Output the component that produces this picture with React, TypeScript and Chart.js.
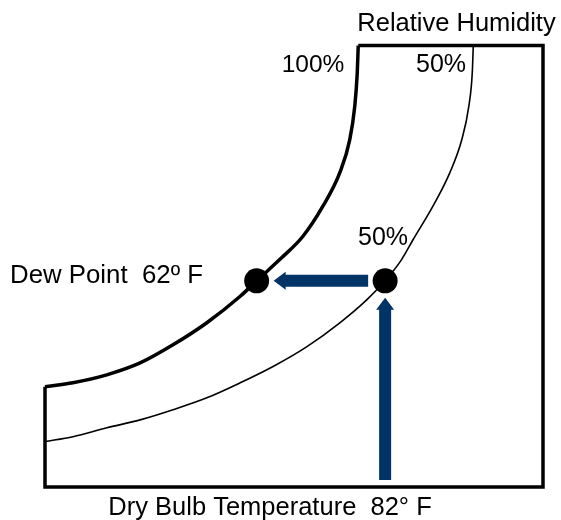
import React, { useEffect, useRef } from "react";
import { Chart, registerables } from "chart.js";

Chart.register(...registerables);

// Normalised chart space: x = dry bulb axis (0..100 across the box), y = moisture axis (0..100 bottom to top)
const rh100X = [0, 5.6, 12.4, 19.1, 25.7, 32.5, 39.2, 42.5, 47.5, 51.8, 55.8, 59.2, 61.2, 62.2, 62.7, 62.9];
const rh100Y = [22.7, 23.6, 25.4, 28.1, 32.2, 37.2, 43.2, 46.7, 51.9, 56.8, 63.6, 71.2, 78.7, 86.2, 93.8, 100];
const rh50X = [0, 5.6, 12.4, 19.1, 25.7, 32.5, 39.2, 45.8, 52.6, 59.2, 64.6, 68.3, 71.6, 73.9, 77.9, 81.3, 83.7, 85.1, 85.8, 86.0];
const rh50Y = [10.3, 11.4, 13.4, 15.2, 17.5, 20.2, 23.6, 27.3, 31.8, 37.2, 42.4, 46.7, 51.5, 56.0, 63.6, 71.2, 78.7, 86.2, 93.9, 100];
const dewPointXY = [42.5, 46.7];
const dryBulbXY = [68.3, 46.7];
const axisMin = 0;
const axisMax = 100;

const labelTexts = [
  "Relative Humidity",
  "100%",
  "50%",
  "50%",
  "Dew Point  62º F",
  "Dry Bulb Temperature  82° F",
];

// label placement (pixels): centre x, baseline y, font size
const labelStyles = [
  { cx: 456.5, by: 30.5, size: 25.5 },
  { cx: 313, by: 72.3, size: 24.5 },
  { cx: 441, by: 72.3, size: 25 },
  { cx: 383, by: 245, size: 25 },
  { cx: 106.5, by: 283.3, size: 25.8 },
  { cx: 270, by: 515, size: 25.5 },
];

const ARROW_COLOR = "#003366";

const zip = (xs: number[], ys: number[]) => xs.map((x, i) => ({ x, y: ys[i] }));

const overlayPlugin = {
  id: "overlay",
  afterDatasetsDraw(chart: any) {
    const ctx = chart.ctx as CanvasRenderingContext2D;
    const xs = chart.scales.x;
    const ys = chart.scales.y;
    const dew = { x: xs.getPixelForValue(dewPointXY[0]), y: ys.getPixelForValue(dewPointXY[1]) };
    const dry = { x: xs.getPixelForValue(dryBulbXY[0]), y: ys.getPixelForValue(dryBulbXY[1]) };
    const gap = 17;
    const shaft = 6;
    const headHalf = 9;
    const headLen = 12;
    ctx.save();
    ctx.fillStyle = ARROW_COLOR;
    // horizontal arrow: dry bulb -> dew point
    {
      const tail = dry.x - gap;
      const tip = dew.x + gap;
      const y = dry.y;
      ctx.beginPath();
      ctx.moveTo(tail, y - shaft);
      ctx.lineTo(tip + headLen, y - shaft);
      ctx.lineTo(tip + headLen, y - headHalf);
      ctx.lineTo(tip, y);
      ctx.lineTo(tip + headLen, y + headHalf);
      ctx.lineTo(tip + headLen, y + shaft);
      ctx.lineTo(tail, y + shaft);
      ctx.closePath();
      ctx.fill();
    }
    // vertical arrow: axis -> dry bulb point
    {
      const tail = ys.getPixelForValue(axisMin) - 7;
      const tip = dry.y + gap;
      const x = dry.x;
      ctx.beginPath();
      ctx.moveTo(x - shaft, tail);
      ctx.lineTo(x - shaft, tip + headLen);
      ctx.lineTo(x - headHalf, tip + headLen);
      ctx.lineTo(x, tip);
      ctx.lineTo(x + headHalf, tip + headLen);
      ctx.lineTo(x + shaft, tip + headLen);
      ctx.lineTo(x + shaft, tail);
      ctx.closePath();
      ctx.fill();
    }
    // labels
    ctx.fillStyle = "#000";
    ctx.textAlign = "center";
    ctx.textBaseline = "alphabetic";
    labelTexts.forEach((t, i) => {
      const s = labelStyles[i];
      ctx.font = `${s.size}px "Liberation Sans", Arial, Helvetica, sans-serif`;
      ctx.fillText(t, s.cx, s.by);
    });
    ctx.restore();
  },
};

export default function App() {
  const ref = useRef<HTMLCanvasElement | null>(null);
  useEffect(() => {
    document.body.style.margin = "0";
    const canvas = ref.current;
    if (!canvas) return;
    const rh100 = zip(rh100X, rh100Y);
    const rh50 = zip(rh50X, rh50Y);
    const top100 = rh100[rh100.length - 1];
    const left100 = rh100[0];
    const box = [
      { x: top100.x, y: axisMax },
      { x: axisMax, y: axisMax },
      { x: axisMax, y: axisMin },
      { x: axisMin, y: axisMin },
      { x: axisMin, y: left100.y },
    ];
    const chart = new Chart(canvas, {
      type: "scatter",
      data: {
        datasets: [
          {
            label: "points",
            data: [
              { x: dewPointXY[0], y: dewPointXY[1] },
              { x: dryBulbXY[0], y: dryBulbXY[1] },
            ],
            pointRadius: 12.5,
            pointHoverRadius: 12.5,
            backgroundColor: "#000",
            borderWidth: 0,
            showLine: false,
            clip: false,
          } as any,
          {
            label: "100%",
            data: rh100,
            showLine: true,
            borderColor: "#000",
            borderWidth: 3.5,
            pointRadius: 0,
            cubicInterpolationMode: "monotone",
            fill: false,
            clip: false,
          } as any,
          {
            label: "50%",
            data: rh50,
            showLine: true,
            borderColor: "#000",
            borderWidth: 1.6,
            pointRadius: 0,
            cubicInterpolationMode: "monotone",
            fill: false,
            clip: false,
          } as any,
          {
            label: "box",
            data: box,
            showLine: true,
            borderColor: "#000",
            borderWidth: 3.5,
            borderJoinStyle: "miter",
            borderCapStyle: "butt",
            pointRadius: 0,
            tension: 0,
            fill: false,
            clip: false,
          } as any,
        ],
      },
      options: {
        animation: false,
        responsive: false,
        devicePixelRatio: 1,
        layout: { padding: { left: 45, right: 18, top: 45.5, bottom: 33 } },
        plugins: { legend: { display: false }, tooltip: { enabled: false } },
        events: [],
        scales: {
          x: { type: "linear", min: axisMin, max: axisMax, display: false },
          y: { type: "linear", min: axisMin, max: axisMax, display: false },
        },
      },
      plugins: [overlayPlugin],
    });
    return () => chart.destroy();
  }, []);
  return (
    <div style={{ width: 561, height: 520, background: "#fff" }}>
      <canvas ref={ref} width={561} height={520} style={{ display: "block" }} />
    </div>
  );
}
